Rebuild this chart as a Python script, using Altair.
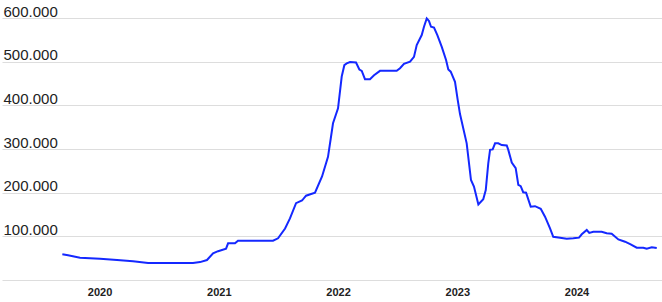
import altair as alt
import pandas as pd

# decimal years
t = [2019.688, 2019.736, 2019.836, 2020.004, 2020.147, 2020.281, 2020.407, 2020.784,
     2020.843, 2020.901, 2020.952, 2020.994, 2021.061, 2021.078, 2021.136, 2021.161,
     2021.455, 2021.497, 2021.556, 2021.597, 2021.648, 2021.698, 2021.732, 2021.807,
     2021.866, 2021.916, 2021.939, 2021.958, 2022.000, 2022.031, 2022.053, 2022.073,
     2022.101, 2022.151, 2022.179, 2022.199, 2022.226, 2022.268, 2022.302, 2022.352,
     2022.492, 2022.520, 2022.553, 2022.604, 2022.637, 2022.660, 2022.702, 2022.721,
     2022.744, 2022.763, 2022.780, 2022.805, 2022.833, 2022.870, 2022.906, 2022.925,
     2022.945, 2022.981, 2023.004, 2023.023, 2023.079, 2023.115, 2023.140, 2023.177,
     2023.218, 2023.239, 2023.260, 2023.275, 2023.297, 2023.317, 2023.344, 2023.373,
     2023.415, 2023.428, 2023.457, 2023.490, 2023.512, 2023.532, 2023.553, 2023.577,
     2023.616, 2023.652, 2023.700, 2023.736, 2023.778, 2023.805, 2023.862, 2023.918,
     2023.973, 2024.021, 2024.044, 2024.086, 2024.107, 2024.141, 2024.211, 2024.253,
     2024.295, 2024.351, 2024.407, 2024.454, 2024.505, 2024.560, 2024.589, 2024.631,
     2024.673]

values = [58800, 56500, 51000, 48800, 45800, 42800, 38900, 38900,
          41000, 45800, 61000, 66000, 71700, 84000, 84000, 90000,
          90000, 95500, 118000, 141000, 176000, 182000, 193000, 200000,
          237000, 282000, 324000, 359000, 393000, 466000, 492000, 496000,
          499000, 498000, 482000, 479000, 460000, 460000, 469000, 479000,
          479000, 485000, 495000, 500000, 511000, 538000, 561000, 580000,
          599000, 593000, 580000, 578000, 561000, 534000, 504000, 482000,
          477000, 454000, 412000, 380000, 313000, 229000, 214000, 173000,
          185000, 206000, 267000, 298000, 299000, 313000, 313000, 309000,
          308000, 298000, 269000, 256000, 218000, 215000, 201000, 200000,
          168000, 169000, 163000, 145000, 118000, 99000, 97000, 94600,
          95500, 97000, 104600, 114500, 108000, 110600, 110600, 107000,
          106000, 93000, 87700, 81700, 74000, 74000, 71700, 74900,
          73300]

year_ticks = [2020, 2021, 2022, 2023, 2024]
y_ticks = [0, 100000, 200000, 300000, 400000, 500000, 600000]

df = pd.DataFrame({"t": t, "v": values})

chart = alt.Chart(df).mark_line(color="#1428ff", strokeWidth=2).encode(
    x=alt.X("t:Q",
            scale=alt.Scale(domain=[2019.182, 2024.717], nice=False, zero=False),
            axis=alt.Axis(values=year_ticks, labelExpr="format(datum.value, 'd')",
                          grid=False, domain=False, ticks=False, tickSize=0,
                          labelPadding=6, labelFontSize=11, labelFontWeight="bold",
                          labelFont="Liberation Sans", labelColor="#222222",
                          title=None, labelFlush=False)),
    y=alt.Y("v:Q",
            scale=alt.Scale(domain=[0, 600000], nice=False),
            axis=alt.Axis(values=y_ticks,
                          labelExpr="datum.value == 0 ? '' : replace(format(datum.value, ','), ',', '.')",
                          grid=True, gridColor="#dddddd", gridWidth=1,
                          domain=False, ticks=False, tickSize=0,
                          labelAlign="left", labelBaseline="alphabetic",
                          labelPadding=-1, labelOffset=-2,
                          labelFontSize=15, labelFont="Liberation Sans",
                          labelColor="#222222", title=None, labelFlush=False)),
).properties(
    width=660, height=262,
    autosize=alt.AutoSizeParams(type="none"),
    padding={"left": 2, "top": 18, "right": 0, "bottom": 22},
).configure_view(stroke=None)

chart.save("out.html", embed_options={"renderer": "svg", "actions": False})
